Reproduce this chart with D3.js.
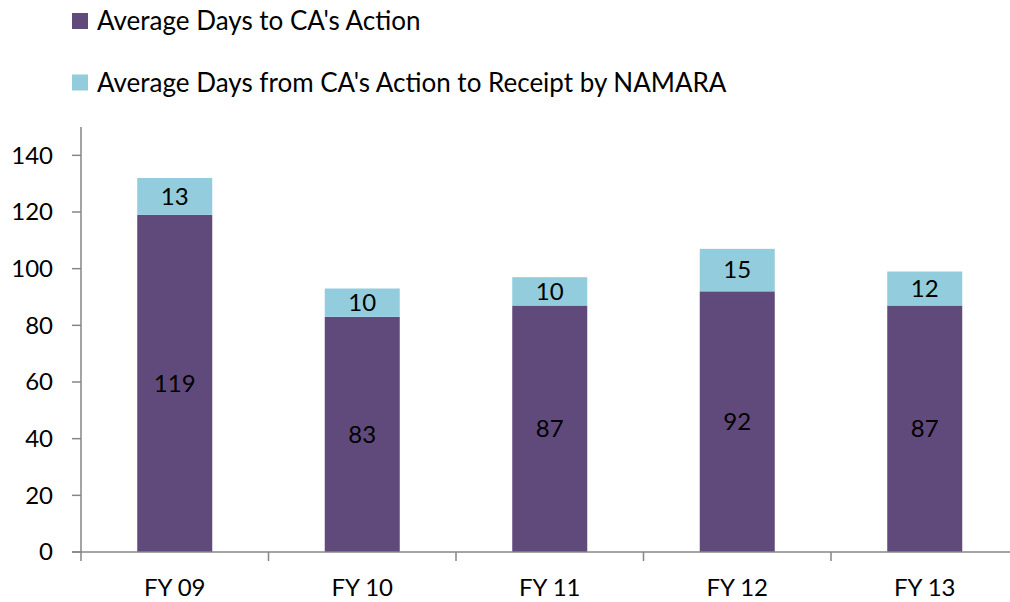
<!DOCTYPE html>
<html>
<head>
<meta charset="utf-8">
<script src="https://cdn.jsdelivr.net/npm/d3@7"></script>
<style>
  body { margin: 0; background: #fff; }
  text { font-family: Lato, "Open Sans", sans-serif; fill: #000; }
</style>
</head>
<body>
<svg id="chart" width="1010" height="602"></svg>
<script>
// données du graphique
var categories = ["FY 09", "FY 10", "FY 11", "FY 12", "FY 13"];
var daysToAction = [119, 83, 87, 92, 87];
var daysToReceipt = [13, 10, 10, 15, 12];
var seriesNames = ["Average Days to CA's Action", "Average Days from CA's Action to Receipt by NAMARA"];
var seriesColors = ["#604a7b", "#93cddd"];
var yTicks = [0, 20, 40, 60, 80, 100, 120, 140];

var svg = d3.select("#chart");
var rect = { left: 81, top: 127, bottom: 552, step: 187.5 };

var x = d3.scaleBand()
    .domain(categories)
    .range([rect.left, rect.left + rect.step * categories.length])
    .paddingInner(0.6).paddingOuter(0.3);
var y = d3.scaleLinear().domain([0, 150]).range([rect.bottom, rect.top]);

// empilement
var rows = categories.map((c, i) => ({ cat: c, a: daysToAction[i], b: daysToReceipt[i] }));
var stack = d3.stack().keys(["a", "b"])(rows);

var g = svg.append("g");
g.selectAll("g.serie")
    .data(stack)
    .enter().append("g")
    .attr("class", "serie")
    .attr("fill", (d, i) => seriesColors[i])
    .selectAll("rect")
    .data(d => d)
    .enter().append("rect")
    .attr("x", d => x(d.data.cat))
    .attr("width", x.bandwidth())
    .attr("y", d => y(d[1]))
    .attr("height", d => y(d[0]) - y(d[1]));

// étiquettes des valeurs
stack.forEach(s => {
    g.append("g").selectAll("text")
        .data(s)
        .enter().append("text")
        .attr("x", d => x(d.data.cat) + x.bandwidth() / 2)
        .attr("y", d => (y(d[0]) + y(d[1])) / 2)
        .attr("dy", "0.35em")
        .attr("text-anchor", "middle")
        .style("font-size", "24px")
        .text(d => d[1] - d[0]);
});

// axe Y
svg.append("line")
    .attr("x1", rect.left).attr("x2", rect.left)
    .attr("y1", rect.top).attr("y2", rect.bottom)
    .style("stroke", "#868686").style("stroke-width", 1.5);
svg.append("g").selectAll("line")
    .data(yTicks)
    .enter().append("line")
    .attr("x1", rect.left - 9).attr("x2", rect.left)
    .attr("y1", d => y(d)).attr("y2", d => y(d))
    .style("stroke", "#868686").style("stroke-width", 1.5);
svg.append("g").selectAll("text")
    .data(yTicks)
    .enter().append("text")
    .attr("x", 53)
    .attr("y", d => y(d))
    .attr("dy", "0.35em")
    .attr("text-anchor", "end")
    .style("font-size", "24px")
    .text(d => d);

// axe X
svg.append("line")
    .attr("x1", rect.left - 9).attr("x2", 1010)
    .attr("y1", rect.bottom).attr("y2", rect.bottom)
    .style("stroke", "#868686").style("stroke-width", 1.5);
svg.append("g").selectAll("line")
    .data(d3.range(categories.length))
    .enter().append("line")
    .attr("x1", i => rect.left + i * rect.step).attr("x2", i => rect.left + i * rect.step)
    .attr("y1", rect.bottom).attr("y2", rect.bottom + 9)
    .style("stroke", "#868686").style("stroke-width", 1.5);
svg.append("g").selectAll("text")
    .data(categories)
    .enter().append("text")
    .attr("x", d => x(d) + x.bandwidth() / 2)
    .attr("y", 596)
    .attr("text-anchor", "middle")
    .style("font-size", "24px")
    .text(d => d);

// légende
var legend = svg.append("g").selectAll("g")
    .data(seriesNames)
    .enter().append("g")
    .attr("transform", (d, i) => "translate(72," + (13 + i * 61.5) + ")");
legend.append("rect")
    .attr("width", 16).attr("height", 16)
    .attr("fill", (d, i) => seriesColors[i]);
legend.append("text")
    .attr("x", 25).attr("y", 8)
    .attr("dy", "0.35em")
    .style("font-size", "26px")
    .text(d => d);
</script>
</body>
</html>
